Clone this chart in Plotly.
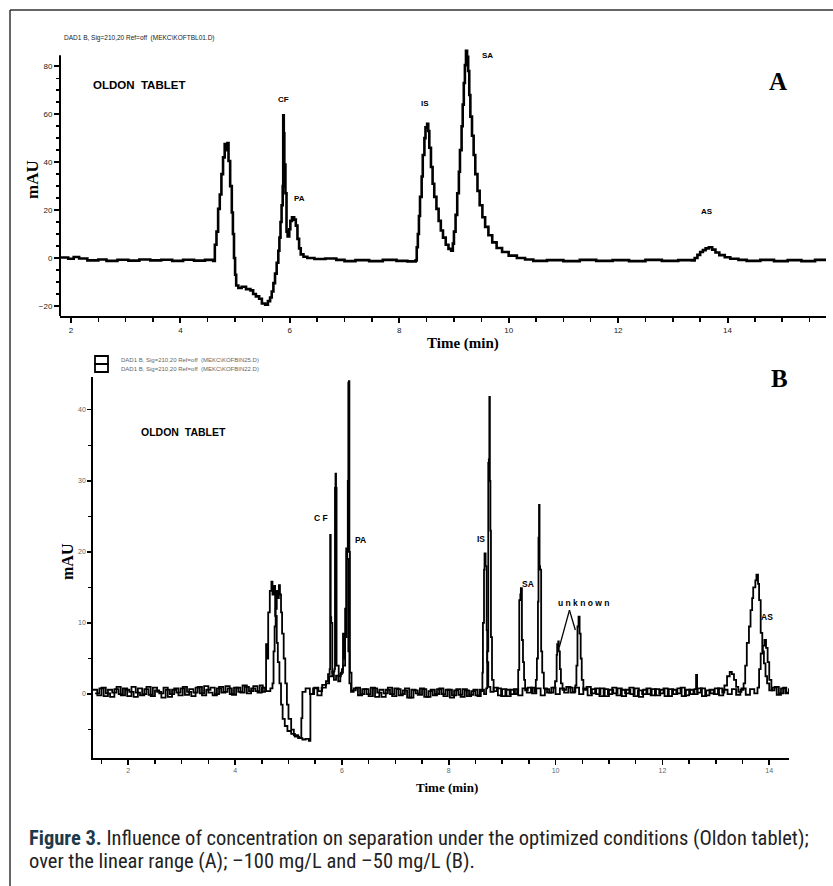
import plotly.graph_objects as go

# ---------------- data (time in min, signal in mAU) ----------------
trace_a = [
    (1.80, 0.2), (1.95, -0.3), (2.05, 0.4), (2.15, -0.2), (2.30, -1.0), (2.50, -0.6), (2.65, -1.2),
    (2.85, -0.7), (3.05, -1.1), (3.25, -0.6), (3.45, -1.0), (3.65, -0.7), (3.85, -1.2), (4.05, -0.7),
    (4.25, -1.1), (4.45, -0.8), (4.60, -1.2),
    (4.63, 5.5), (4.66, 11.0), (4.69, 20.5), (4.72, 26.5), (4.75, 35.0), (4.78, 42.0), (4.81, 47.5),
    (4.84, 45.0), (4.86, 48.0), (4.88, 40.5), (4.91, 30.0), (4.94, 19.0), (4.96, 10.0), (4.98, 0.0),
    (5.00, -7.0), (5.02, -11.5), (5.06, -12.5), (5.12, -12.0), (5.20, -13.0), (5.28, -13.5),
    (5.33, -15.0), (5.38, -16.0), (5.44, -17.0), (5.49, -19.0), (5.55, -19.5), (5.60, -18.0),
    (5.64, -16.5), (5.67, -14.0), (5.70, -10.5), (5.73, -6.5), (5.76, -2.0), (5.79, 3.0),
    (5.81, 8.5), (5.83, 15.0), (5.85, 22.0), (5.87, 30.0), (5.88, 59.5), (5.89, 52.0), (5.90, 39.0),
    (5.92, 27.0), (5.94, 11.0), (5.96, 9.0), (5.99, 12.0), (6.01, 15.5), (6.04, 17.0), (6.08, 16.0),
    (6.11, 13.5), (6.14, 8.0), (6.17, 4.0), (6.20, 1.5), (6.25, 0.5), (6.32, 0.0), (6.45, -0.4),
    (6.65, -0.2), (6.85, -0.8), (7.00, -1.3), (7.20, -0.9), (7.45, -1.3), (7.70, -0.8), (7.95, -1.2),
    (8.15, -1.4), (8.30, -1.0),
    (8.32, 4.5), (8.34, 10.0), (8.36, 17.5), (8.38, 25.5), (8.41, 34.0), (8.43, 43.0), (8.46, 50.0),
    (8.48, 54.5), (8.51, 56.0), (8.53, 53.0), (8.55, 46.0), (8.58, 38.0), (8.61, 31.0), (8.64, 25.5),
    (8.68, 20.5), (8.72, 15.5), (8.76, 11.5), (8.80, 8.5), (8.85, 5.5), (8.90, 3.8), (8.95, 3.0),
    (8.98, 6.0), (9.00, 11.0), (9.03, 18.0), (9.06, 27.0), (9.09, 36.0), (9.11, 45.0), (9.14, 55.0),
    (9.16, 64.0), (9.18, 73.0), (9.20, 80.5), (9.22, 86.5), (9.24, 84.0), (9.26, 78.0), (9.28, 68.0),
    (9.30, 59.0), (9.33, 51.0), (9.36, 43.0), (9.39, 35.0), (9.43, 28.0), (9.47, 22.0), (9.52, 17.0),
    (9.57, 13.0), (9.63, 9.5), (9.70, 6.5), (9.78, 4.2), (9.88, 2.5), (10.00, 1.0), (10.15, 0.0),
    (10.30, -0.6), (10.45, -1.2), (10.70, -0.9), (11.00, -1.3), (11.30, -0.8), (11.60, -1.2),
    (11.90, -0.9), (12.20, -1.3), (12.50, -0.8), (12.80, -1.2), (13.10, -0.9), (13.35, -1.0),
    (13.40, 0.0), (13.45, 1.3), (13.50, 2.5), (13.55, 3.3), (13.60, 4.0), (13.66, 4.5), (13.72, 3.5),
    (13.78, 2.3), (13.85, 1.2), (13.95, 0.3), (14.05, -0.3), (14.20, -0.8), (14.35, -1.2),
    (14.60, -0.8), (14.85, -1.3), (15.10, -0.9), (15.35, -1.3), (15.60, -0.8), (15.80, -1.1),
]

trace_b50 = [
    (1.34, 0.6), (1.42, -0.2), (1.50, 0.9), (1.58, 0.1), (1.66, -0.4), (1.74, 0.7), (1.82, 0.0),
    (1.90, 0.8), (1.98, -0.3), (2.06, 1.0), (2.14, 0.2), (2.22, -0.2), (2.30, 0.7), (2.38, -0.1),
    (2.46, 0.9), (2.54, 0.3), (2.62, -0.5), (2.70, 0.6), (2.78, 0.0), (2.86, 0.8), (2.94, -0.2),
    (3.02, 1.0), (3.10, 0.3), (3.18, -0.3), (3.26, 0.9), (3.34, 0.1), (3.42, 1.1), (3.50, 0.2),
    (3.58, -0.2), (3.66, 0.8), (3.74, 0.2), (3.82, 1.1), (3.90, 0.0), (3.98, 0.9), (4.06, 0.3),
    (4.14, 1.2), (4.22, 0.1), (4.30, 0.8), (4.38, 0.4), (4.46, 1.2), (4.52, 0.3),
    (4.56, 0.8), (4.58, 7.0), (4.60, 5.0), (4.62, 11.5), (4.65, 14.5), (4.68, 15.8), (4.70, 14.0),
    (4.72, 15.2), (4.75, 11.0), (4.78, 7.2), (4.80, 4.5), (4.83, 1.5), (4.86, -1.5), (4.89, -3.5),
    (4.93, -4.5), (4.98, -5.2), (5.05, -5.6), (5.12, -6.0), (5.20, -6.2), (5.24, -3.4), (5.26, 0.3),
    (5.32, 0.8), (5.40, 0.0), (5.48, 0.9), (5.56, 0.4), (5.63, 1.3), (5.70, 1.8), (5.74, 2.8),
    (5.77, 3.5), (5.78, 22.4), (5.79, 10.8), (5.80, 10.0), (5.82, 3.0), (5.85, 2.0), (5.89, 2.6),
    (5.93, 1.8), (5.97, 2.8), (6.00, 3.5), (6.02, 8.5), (6.04, 5.0), (6.06, 12.0), (6.08, 20.5),
    (6.10, 19.0), (6.12, 6.0), (6.14, 1.5), (6.17, 0.3), (6.22, 0.8),
    (6.30, -0.2), (6.38, 0.7), (6.46, 0.0), (6.54, 0.9), (6.62, -0.4), (6.70, 0.6), (6.78, 0.1),
    (6.86, 0.9), (6.94, -0.3), (7.02, 0.7), (7.10, 0.0), (7.18, 0.8), (7.26, -0.5), (7.34, 0.5),
    (7.42, -0.1), (7.50, 0.7), (7.58, -0.4), (7.66, 0.6), (7.74, 0.0), (7.82, 0.8), (7.90, -0.3),
    (7.98, 0.6), (8.06, -0.2), (8.14, 0.7), (8.22, -0.4), (8.30, 0.5), (8.38, -0.1), (8.46, 0.6),
    (8.54, -0.3), (8.60, 0.4),
    (8.63, 3.0), (8.64, 10.0), (8.66, 17.5), (8.67, 19.8), (8.69, 18.0), (8.71, 9.0), (8.72, 4.5),
    (8.74, 1.0), (8.78, 0.3),
    (8.84, 0.9), (8.92, -0.2), (9.00, 0.7), (9.08, -0.3), (9.16, 0.6), (9.24, 0.0), (9.28, 0.6),
    (9.30, 3.4), (9.32, 13.2), (9.34, 14.0), (9.35, 14.9), (9.37, 7.6), (9.39, 4.5), (9.41, 2.0),
    (9.43, 0.5),
    (9.48, 0.9), (9.56, 0.1), (9.64, 0.8), (9.72, -0.2), (9.80, 0.7), (9.88, 0.2), (9.96, 0.9),
    (9.99, 1.8), (10.02, 5.5), (10.03, 7.0), (10.05, 7.4), (10.06, 6.0), (10.08, 3.5), (10.10, 1.5),
    (10.13, 0.6),
    (10.20, 1.0), (10.28, 0.2), (10.36, 0.9), (10.44, 0.0), (10.52, 0.8), (10.60, -0.2), (10.68, 0.7),
    (10.76, 0.0), (10.84, 0.8), (10.92, -0.3), (11.00, 0.6), (11.08, 0.1), (11.16, 0.8), (11.24, -0.3),
    (11.32, 0.6), (11.40, 0.0), (11.48, 0.8), (11.56, -0.4), (11.64, 0.6), (11.72, 0.0), (11.80, 0.7),
    (11.88, -0.2), (11.96, 0.6), (12.04, -0.3), (12.12, 0.7), (12.20, 0.0), (12.28, 0.8), (12.36, -0.3),
    (12.44, 0.6), (12.52, 0.0), (12.60, 0.7), (12.63, 2.7), (12.65, 0.2), (12.72, 0.8), (12.80, -0.2),
    (12.88, 0.6), (12.96, 0.0), (13.04, 0.8), (13.12, 0.2),
    (13.16, 1.2), (13.21, 2.5), (13.26, 3.1), (13.30, 2.8), (13.34, 2.0), (13.38, 1.0), (13.42, 0.3),
    (13.48, 0.8), (13.56, -0.1), (13.64, 0.7), (13.72, 0.1), (13.78, 0.9),
    (13.81, 3.5), (13.84, 5.7), (13.88, 6.8), (13.91, 7.6), (13.94, 6.5), (13.97, 4.5), (14.00, 2.0),
    (14.04, 0.5),
    (14.10, 1.0), (14.18, 0.1), (14.26, 0.9), (14.32, 0.2), (14.37, 0.8),
]

trace_b100 = [
    (1.38, 0.1), (1.46, 0.8), (1.54, -0.3), (1.62, 0.6), (1.70, 0.2), (1.78, 1.0), (1.86, -0.2),
    (1.94, 0.6), (2.02, 0.3), (2.10, -0.4), (2.18, 0.8), (2.26, 0.0), (2.34, 1.0), (2.42, -0.3),
    (2.50, 0.5), (2.58, 0.1), (2.66, 0.9), (2.74, -0.4), (2.82, 0.6), (2.90, 0.2), (2.98, 0.8),
    (3.06, -0.1), (3.14, 0.7), (3.22, 0.2), (3.30, 1.0), (3.38, -0.2), (3.46, 0.6), (3.54, 0.9),
    (3.62, 0.0), (3.70, 1.0), (3.78, 0.3), (3.86, 0.8), (3.94, -0.1), (4.02, 0.9), (4.10, 0.2),
    (4.18, 1.0), (4.26, 0.4), (4.34, 1.1), (4.42, 0.2), (4.50, 0.9), (4.58, 0.4), (4.66, 0.8),
    (4.70, 1.5), (4.72, 6.0), (4.74, 9.5), (4.76, 12.0), (4.78, 14.5), (4.80, 13.5), (4.82, 15.3),
    (4.84, 14.0), (4.86, 11.5), (4.88, 8.5), (4.91, 5.0), (4.94, 1.5), (4.97, -1.5), (5.00, -3.5),
    (5.05, -5.0), (5.10, -5.8), (5.18, -6.2), (5.26, -6.4), (5.32, -6.3), (5.38, -6.6), (5.41, 0.0),
    (5.46, 0.8), (5.54, -0.2), (5.62, 0.9), (5.70, 1.5), (5.76, 2.5), (5.82, 3.2), (5.86, 3.5),
    (5.87, 29.0), (5.88, 31.0), (5.89, 29.0), (5.90, 4.0), (5.94, 2.5), (5.98, 3.0), (6.02, 4.0),
    (6.06, 8.0), (6.09, 20.0), (6.11, 30.0), (6.12, 43.8), (6.13, 44.0), (6.14, 20.0), (6.15, 3.0),
    (6.18, 0.5),
    (6.26, 0.9), (6.34, 0.0), (6.42, 0.7), (6.50, -0.3), (6.58, 0.8), (6.66, 0.2), (6.74, -0.4),
    (6.82, 0.6), (6.90, 0.0), (6.98, 0.8), (7.06, -0.2), (7.14, 0.5), (7.22, -0.5), (7.30, 0.6),
    (7.38, 0.1), (7.46, 0.8), (7.54, -0.4), (7.62, 0.4), (7.70, -0.2), (7.78, 0.7), (7.86, 0.0),
    (7.94, 0.6), (8.02, -0.5), (8.10, 0.5), (8.18, -0.1), (8.26, 0.7), (8.34, -0.3), (8.42, 0.4),
    (8.50, -0.2), (8.58, 0.6), (8.66, 0.0), (8.70, 0.8),
    (8.72, 6.0), (8.74, 32.5), (8.75, 33.0), (8.76, 41.8), (8.77, 30.0), (8.78, 23.0), (8.79, 8.0),
    (8.81, 2.0), (8.84, 0.4),
    (8.90, 0.8), (8.98, -0.3), (9.06, 0.6), (9.14, 0.0), (9.22, 0.7), (9.30, -0.2), (9.38, 0.8),
    (9.46, 0.2), (9.54, 0.9), (9.60, 0.3),
    (9.63, 2.0), (9.65, 5.0), (9.67, 13.0), (9.68, 22.0), (9.69, 26.6), (9.70, 18.0), (9.71, 17.5),
    (9.73, 6.0), (9.75, 3.0), (9.78, 0.8),
    (9.84, 0.2), (9.92, 0.9), (10.00, 0.0), (10.08, 0.8), (10.16, 0.2), (10.24, 0.9), (10.32, 0.3),
    (10.37, 1.2), (10.39, 4.0), (10.41, 9.5), (10.43, 10.9), (10.45, 8.5), (10.47, 5.0), (10.49, 2.0),
    (10.52, 0.6),
    (10.58, 1.0), (10.66, 0.1), (10.74, 0.8), (10.82, -0.3), (10.90, 0.7), (10.98, 0.0), (11.06, 0.9),
    (11.14, -0.2), (11.22, 0.6), (11.30, 0.1), (11.38, 0.9), (11.46, -0.3), (11.54, 0.5), (11.62, 0.0),
    (11.70, 0.8), (11.78, -0.2), (11.86, 0.7), (11.94, 0.1), (12.02, 0.8), (12.10, -0.3), (12.18, 0.6),
    (12.26, 0.1), (12.34, 0.9), (12.42, -0.2), (12.50, 0.6), (12.58, 0.0), (12.66, 0.8), (12.74, -0.3),
    (12.82, 0.5), (12.90, 0.1), (12.98, 0.8), (13.06, -0.2), (13.14, 0.6), (13.22, 0.0), (13.30, 0.7),
    (13.38, -0.1), (13.46, 0.6),
    (13.52, 1.5), (13.55, 4.0), (13.58, 7.2), (13.62, 9.5), (13.65, 11.8), (13.68, 13.5), (13.70, 15.0),
    (13.74, 16.0), (13.76, 16.8), (13.79, 15.5), (13.81, 13.2), (13.84, 8.6), (13.87, 6.0), (13.90, 4.3),
    (13.93, 2.5), (13.96, 1.5), (14.00, 0.5),
    (14.06, 0.9), (14.14, -0.1), (14.22, 0.8), (14.30, 0.1), (14.37, 0.6),
]

# peak labels: (text, time, mAU)
labels_a = [("CF", 5.89, 66.0), ("PA", 6.18, 25.0), ("IS", 8.47, 64.3), ("SA", 9.62, 84.7), ("AS", 13.62, 19.3)]
labels_b = [("C F", 5.61, 24.8), ("PA", 6.34, 21.7), ("IS", 8.61, 21.8), ("SA", 9.49, 15.5),
            ("u n k n o w n", 10.52, 12.8), ("AS", 13.95, 10.8)]

header_a = "DAD1 B, Sig=210,20 Ref=off  (MEKC\\KOFTBL01.D)"
legend_b = ["DAD1 B, Sig=210,20 Ref=off  (MEKC\\KOFBIN25.D)", "DAD1 B, Sig=210,20 Ref=off  (MEKC\\KOFBIN22.D)"]

W, H = 833, 886
def px(x):
    return x / W
def py(y):
    return 1 - y / H

A_YMIN, A_YAX_TOP, A_YMAX = -24.2, 84.6, 87.8

fig = go.Figure()
fig.add_trace(go.Scatter(x=[p[0] for p in trace_a], y=[p[1] for p in trace_a], mode="lines",
                         line=dict(color="black", width=2.6, shape="hv"), xaxis="x", yaxis="y"))
fig.add_trace(go.Scatter(x=[p[0] for p in trace_b50], y=[p[1] for p in trace_b50], mode="lines",
                         line=dict(color="black", width=1.8, shape="hv"), xaxis="x2", yaxis="y2"))
fig.add_trace(go.Scatter(x=[p[0] for p in trace_b100], y=[p[1] for p in trace_b100], mode="lines",
                         line=dict(color="black", width=1.8, shape="hv"), xaxis="x2", yaxis="y2"))

tickf_a = dict(family="Liberation Sans, Arial", size=8, color="#222")
tickf_b = dict(family="Liberation Sans, Arial", size=7, color="#666")
common = dict(linecolor="black", ticks="outside", tickcolor="black",
              showgrid=False, zeroline=False, fixedrange=True)

# y range of A extends a bit above the drawn axis line so the SA apex is not clipped
a_top_px = 258.3 - A_YMAX * 2.4

fig.update_layout(
    width=W, height=H, autosize=False, margin=dict(l=0, r=0, t=0, b=0),
    paper_bgcolor="white", plot_bgcolor="white", showlegend=False,
    xaxis=dict(domain=[px(60), px(826)], anchor="y", range=[1.80, 15.8], dtick=2, tick0=0,
               showline=True, linewidth=2, ticklen=5, tickwidth=2, tickfont=tickf_a,
               minor=dict(dtick=0.5, ticklen=4, tickwidth=1.5, tickcolor="black", ticks="outside"), **common),
    yaxis=dict(domain=[py(316), py(a_top_px)], anchor="x", range=[A_YMIN, A_YMAX],
               tickvals=[-20, 0, 20, 40, 60, 80], showline=False, ticklen=5, tickwidth=2, tickfont=tickf_a,
               minor=dict(tickvals=[-15, -10, -5, 5, 10, 15, 25, 30, 35, 45, 50, 55, 65, 70, 75],
                          ticklen=3, tickwidth=1.5, tickcolor="black", ticks="outside"), **common),
    xaxis2=dict(domain=[px(93), px(789)], anchor="y2", range=[1.34, 14.37], dtick=2, tick0=0,
                showline=True, linewidth=1.8, ticklen=5, tickwidth=1.8, tickfont=tickf_b,
                minor=dict(dtick=0.5, ticklen=4, tickwidth=1.5, tickcolor="black", ticks="outside"), **common),
    yaxis2=dict(domain=[py(758), py(377)], anchor="x2", range=[-9.0, 44.6], dtick=10, tick0=0,
                showline=True, linewidth=1.8, ticklen=4, tickwidth=1.5, tickfont=tickf_b,
                minor=dict(dtick=5, ticklen=3, tickwidth=1.2, tickcolor="black", ticks="outside"), **common),
)

ann = []
serif = "Liberation Serif, Times New Roman, serif"
sans = "Liberation Sans, Arial, sans-serif"
def note(text, x, y, size, family, color="black", xref="paper", yref="paper", xanchor="center", angle=0):
    ann.append(dict(text=text, x=x, y=y, xref=xref, yref=yref, showarrow=False, xanchor=xanchor,
                    yanchor="middle", textangle=angle, font=dict(family=family, size=size, color=color)))

# axis titles
note("<b>mAU</b>", px(33), py(180), 17, serif, angle=-90)
note("<b>Time (min)</b>", px(463), py(343), 15, serif)
note("<b>mAU</b>", px(67), py(562), 16, serif, angle=-90)
note("<b>Time (min)</b>", px(447), py(787), 13, serif)
# panel letters
note("<b>A</b>", px(778), py(82), 25, serif)
note("<b>B</b>", px(779), py(378), 25, serif)
# headers
note(header_a, px(62), py(38), 6.5, sans, color="#222", xanchor="left")
for i, t in enumerate(legend_b):
    note(t, px(119), py(360 + 9 * i), 6, sans, color="#666", xanchor="left")
# OLDON TABLET
note("<b>OLDON  TABLET</b>", 2.36, 72.2, 11.5, sans, xref="x", yref="y", xanchor="left")
note("<b>OLDON  TABLET</b>", 2.21, 36.9, 10.5, sans, xref="x2", yref="y2", xanchor="left")
for t, x, y in labels_a:
    note("<b>%s</b>" % t, x, y, 8, sans, xref="x", yref="y")
for t, x, y in labels_b:
    note("<b>%s</b>" % t, x, y, 8.5, sans, xref="x2", yref="y2")
# caption
cap_family = "Liberation Sans Narrow, Arial Narrow, Roboto Condensed, Liberation Sans, sans-serif"
note("<span style='color:#1d3a4c'><b>Figure 3.</b></span> Influence of concentration on separation under the optimized conditions (Oldon tablet);",
     px(27), py(838), 20.5, cap_family, color="#222", xanchor="left")
note("over the linear range (A); \u2013100 mg/L and \u201350 mg/L (B).",
     px(27), py(861), 20.5, cap_family, color="#222", xanchor="left")
fig.update_layout(annotations=ann)

shapes = [
    dict(type="line", xref="paper", yref="paper", x0=px(10), x1=1, y0=py(10), y1=py(10),
         line=dict(color="#333", width=1.5)),
    dict(type="line", xref="paper", yref="paper", x0=px(10), x1=px(10), y0=py(10), y1=0,
         line=dict(color="#333", width=1.5)),
    # y-axis line of panel A
    dict(type="line", xref="paper", yref="y", x0=px(60), x1=px(60), y0=A_YMIN, y1=A_YAX_TOP,
         line=dict(color="black", width=2)),
    dict(type="rect", xref="paper", yref="paper", x0=px(95), x1=px(108), y0=py(364), y1=py(356),
         line=dict(color="black", width=1.8), fillcolor="white"),
    dict(type="rect", xref="paper", yref="paper", x0=px(95), x1=px(108), y0=py(372), y1=py(364),
         line=dict(color="black", width=1.8), fillcolor="white"),
    # pointer lines from "unknown" label
    dict(type="line", xref="x2", yref="y2", x0=10.26, y0=11.8, x1=10.07, y1=6.6, line=dict(color="black", width=1.3)),
    dict(type="line", xref="x2", yref="y2", x0=10.26, y0=11.8, x1=10.37, y1=9.0, line=dict(color="black", width=1.3)),
]
fig.update_layout(shapes=shapes)

fig.write_html("out.html", config={"displayModeBar": False, "staticPlot": True},
               post_script="document.body.style.margin='0';document.body.style.overflow='hidden';")
